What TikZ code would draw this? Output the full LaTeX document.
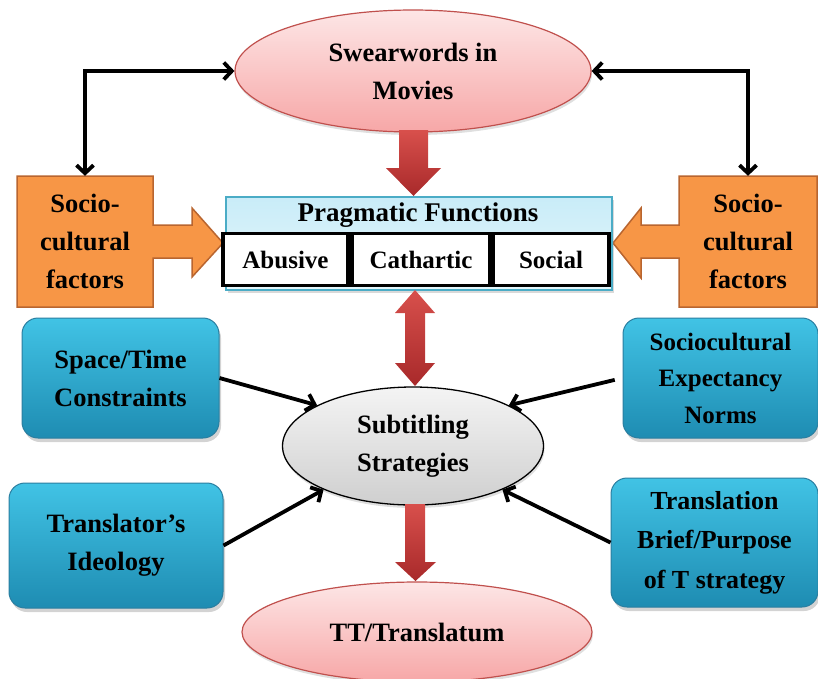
\documentclass[tikz,border=0pt]{standalone}
\usepackage{fontspec}
\setmainfont{Liberation Serif}
\usetikzlibrary{arrows.meta,shapes.geometric,shadows,calc}
\definecolor{pinkT}{HTML}{FDE6E6}
\definecolor{pinkB}{HTML}{F7A7A7}
\definecolor{pinkD}{HTML}{C0504D}
\definecolor{redT}{HTML}{D8504C}
\definecolor{redB}{HTML}{A8292A}
\definecolor{orF}{HTML}{F79646}
\definecolor{orD}{HTML}{B9652F}
\definecolor{blT}{HTML}{41C3E5}
\definecolor{blB}{HTML}{1E8CB2}
\definecolor{blD}{HTML}{2A7EA0}
\definecolor{cyT}{HTML}{C9ECF8}
\definecolor{cyB}{HTML}{E6F7FC}
\definecolor{cyD}{HTML}{4BACC6}
\definecolor{grT}{HTML}{F4F4F4}
\definecolor{grB}{HTML}{CFCFCF}
\begin{document}
\begin{tikzpicture}[x=1pt,y=-1pt,
  font=\bfseries\fontsize{26.5}{38}\selectfont,
  pinkell/.style={ellipse, draw=pinkD, line width=1.2pt, top color=pinkT, bottom color=pinkB, align=center, inner sep=0pt,
     drop shadow={shadow xshift=1pt, shadow yshift=-3pt, opacity=0.25}},
  grayell/.style={ellipse, draw=black, line width=1.3pt, top color=grT, bottom color=grB, align=center, inner sep=0pt,
     drop shadow={shadow xshift=1pt, shadow yshift=-3pt, opacity=0.25}},
  bluebox/.style={rounded corners=16pt, draw=blD, line width=1pt, top color=blT, bottom color=blB, align=center, inner sep=0pt,
     drop shadow={shadow xshift=2pt, shadow yshift=-4pt, opacity=0.35}},
  pragbox/.style={draw=cyD, line width=1.2pt, top color=cyT, bottom color=cyB, inner sep=0pt,
     drop shadow={shadow xshift=2pt, shadow yshift=-3pt, opacity=0.3}},
  inbox/.style={draw=black, line width=3.5pt, fill=white, inner sep=0pt, font=\bfseries\fontsize{25}{30}\selectfont},
  orshape/.style={draw=orD, line width=1.5pt, fill=orF, line join=miter},
  redarrow/.style={top color=redT, bottom color=redB},
  blk/.style={line width=3.8pt, line join=miter, {Straight Barb[length=8pt,width=17pt]}-{Straight Barb[length=8pt,width=17pt]}},
  one/.style={line width=3.8pt, -{Straight Barb[length=8pt,width=17pt]}},
  plain/.style={align=center, inner sep=0pt}
]
\useasboundingbox (0,0) rectangle (818,678);

% orange shapes
\draw[orshape] (17,176) -- (153,176) -- (153,225) -- (192,225) -- (192,208) -- (223,243) -- (192,277) -- (192,258) -- (153,258) -- (153,307) -- (17,307) -- cycle;
\draw[orshape] (817,176) -- (679,176) -- (679,225) -- (641,225) -- (641,208) -- (613,243) -- (641,278) -- (641,258) -- (679,258) -- (679,307) -- (817,307) -- cycle;
\node[plain, minimum width=136pt, minimum height=131pt] (scL) at (85,241.5) {Socio-\\cultural\\factors};
\node[plain, minimum width=138pt, minimum height=131pt] (scR) at (748,241.5) {Socio-\\cultural\\factors};

% top ellipse
\node[pinkell, minimum width=356pt, minimum height=122pt] (sw) at (413,71) {Swearwords in\\Movies};

% pragmatic box
\node[pragbox, minimum width=386pt, minimum height=93pt] (prag) at (419,243.5) {};
\node[plain, font=\bfseries\fontsize{27}{30}\selectfont] (pragt) at (418,215) {Pragmatic Functions};
\node[inbox, minimum width=125pt, minimum height=52pt] (ab) at (285.5,259.5) {Abusive};
\node[inbox, minimum width=138pt, minimum height=52pt] (cat) at (421,259.5) {Cathartic};
\node[inbox, minimum width=116pt, minimum height=52pt] (soc) at (551,259.5) {Social};

% subtitling ellipse
\node[grayell, minimum width=261pt, minimum height=118pt] (ss) at (413,446) {Subtitling\\Strategies};

% bottom ellipse
\node[pinkell, minimum width=350pt, minimum height=100pt] (tt) at (417,632) {TT/Translatum};

% blue boxes
\node[bluebox, minimum width=197pt, minimum height=120pt] (st) at (120.5,378) {Space/Time\\Constraints};
\node[bluebox, minimum width=214pt, minimum height=125pt] (ti) at (116,545.5) {Translator’s\\Ideology};
\node[bluebox, minimum width=195pt, minimum height=120pt, font=\bfseries\fontsize{25}{36.5}\selectfont] (sen) at (720.5,378) {Sociocultural\\Expectancy\\Norms};
\node[bluebox, minimum width=207pt, minimum height=129pt, font=\bfseries\fontsize{26}{39.5}\selectfont] (tb) at (714.5,542.5) {Translation\\Brief/Purpose\\of T strategy};

% red block arrows
\path[redarrow] (399,130) -- (428,130) -- (428,168) -- (441,168) -- (413.5,196) -- (386,168) -- (399,168) -- cycle;
\path[redarrow] (415,290) -- (435,313) -- (425,313) -- (425,363) -- (435,363) -- (415,386) -- (395,363) -- (405,363) -- (405,313) -- (395,313) -- cycle;
\path[redarrow] (405,504) -- (425,504) -- (425,562) -- (436,562) -- (415.5,581) -- (395,562) -- (405,562) -- cycle;

% black connectors
\draw[blk] (scL.north) |- (sw.west);
\draw[blk] (scR.north) |- (sw.east);
\draw[one] (st.east) -- (ss.157);
\draw[one] (ti.east) -- (ss.206);
\draw[one, shorten <=8pt] (sen.west) -- (ss.23);
\draw[one] (tb.west) -- (ss.334);
\end{tikzpicture}
\end{document}
